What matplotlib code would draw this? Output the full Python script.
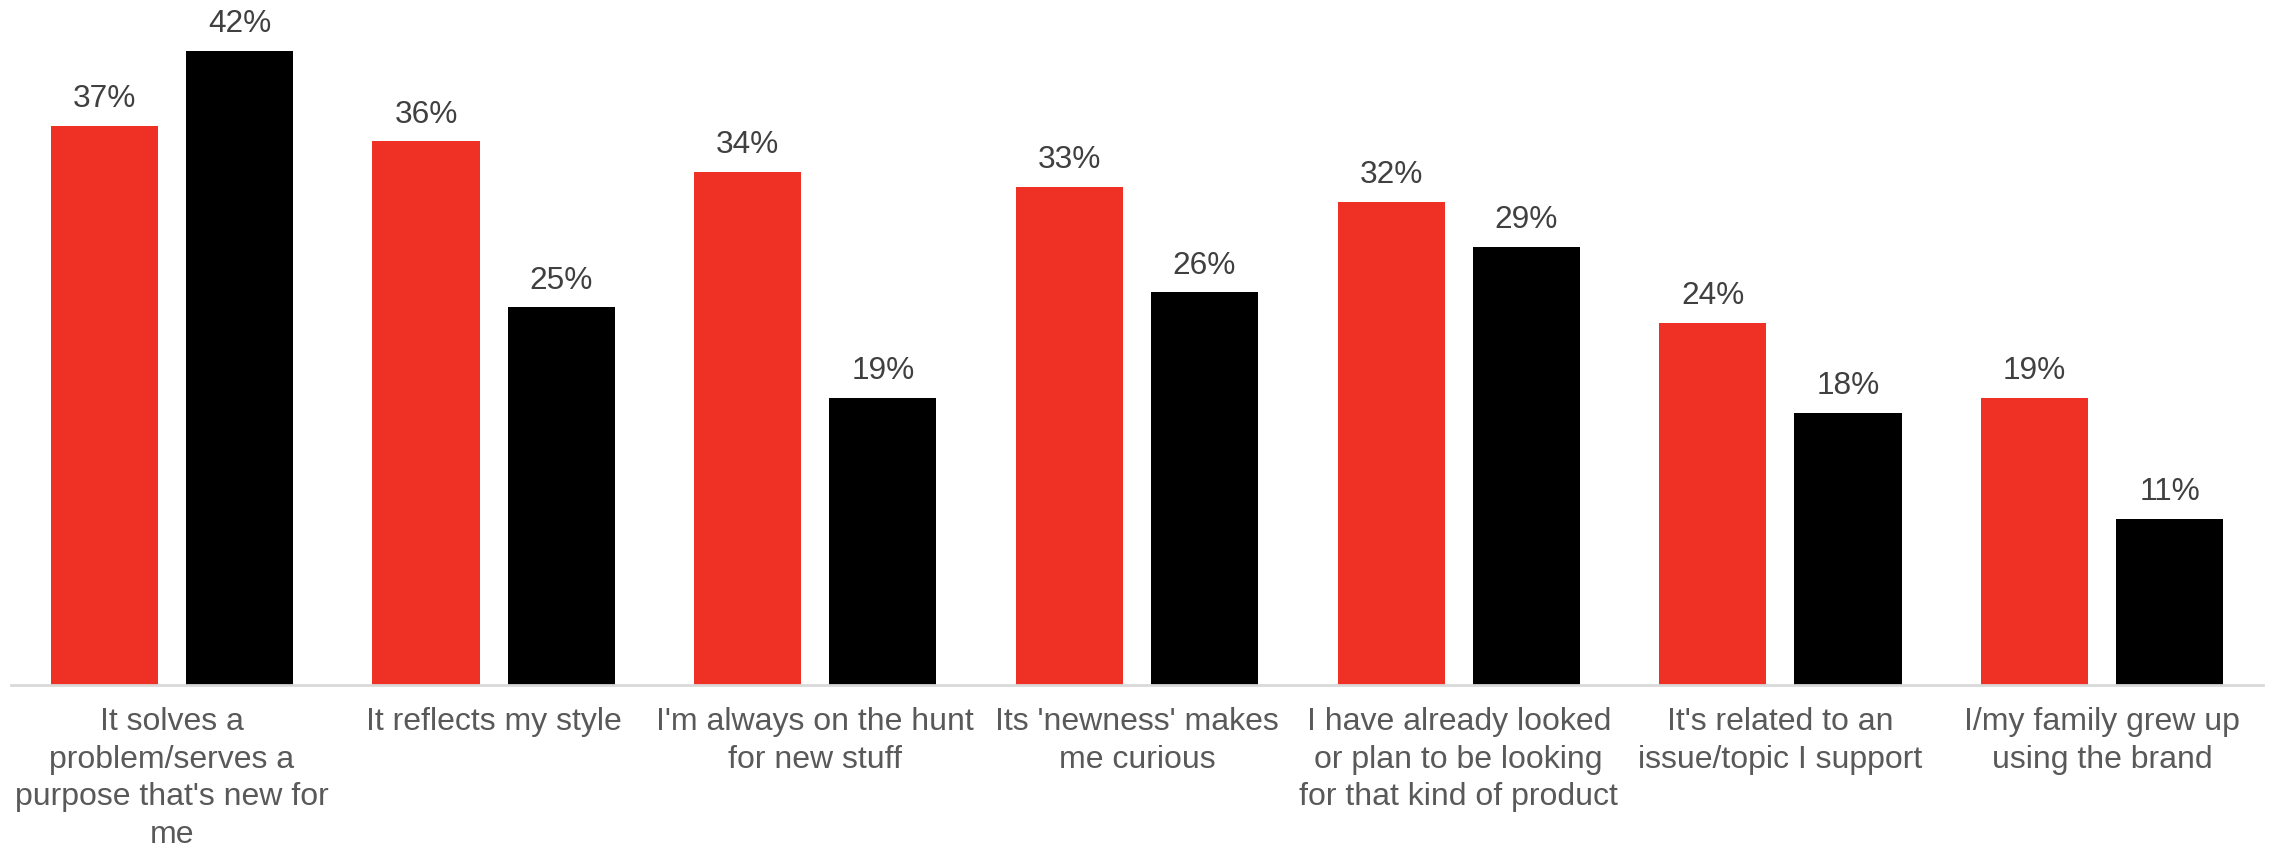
import matplotlib
matplotlib.use("Agg")
from matplotlib import pyplot as plt
import numpy as np

# Data
categories = [
    "It solves a\nproblem/serves a\npurpose that's new for\nme",
    "It reflects my style",
    "I'm always on the hunt\nfor new stuff",
    "Its 'newness' makes\nme curious",
    "I have already looked\nor plan to be looking\nfor that kind of product",
    "It's related to an\nissue/topic I support",
    "I/my family grew up\nusing the brand",
]
red_values = [37, 36, 34, 33, 32, 24, 19]
black_values = [42, 25, 19, 26, 29, 18, 11]

plt.rcParams["font.family"] = ["Liberation Sans", "DejaVu Sans"]

fig = plt.figure(figsize=(22.7, 8.48), dpi=100)
ax = fig.add_axes([11 / 2270, 163 / 848, 2252 / 2270, 685 / 848])

x = np.arange(len(categories))
w = 0.333
off = 0.21
bars_r = ax.bar(x - off, red_values, width=w, color="#EE3124")
bars_b = ax.bar(x + off, black_values, width=w, color="#000000")

#Value labels
for bars in (bars_r, bars_b):
    for b in bars:
        ax.annotate(f"{b.get_height():.0f}%", (b.get_x() + b.get_width() / 2, b.get_height()),
                    xytext=(0, 8.5), textcoords="offset points", ha="center", va="bottom",
                    fontsize=22.8, color="#404040")

ax.set_xlim(-0.5, len(categories) - 0.5)
ax.set_ylim(0, 45.36)
ax.set_xticks(x)
ax.set_xticklabels(categories, fontsize=23, color="#595959", linespacing=1.33)
ax.tick_params(axis="x", length=0, pad=16)
ax.set_yticks([])

for s in ["top", "right", "left"]:
    ax.spines[s].set_visible(False)
ax.spines["bottom"].set_color("#D9D9D9")
ax.spines["bottom"].set_linewidth(2)

fig.savefig("out.png", dpi=100)
